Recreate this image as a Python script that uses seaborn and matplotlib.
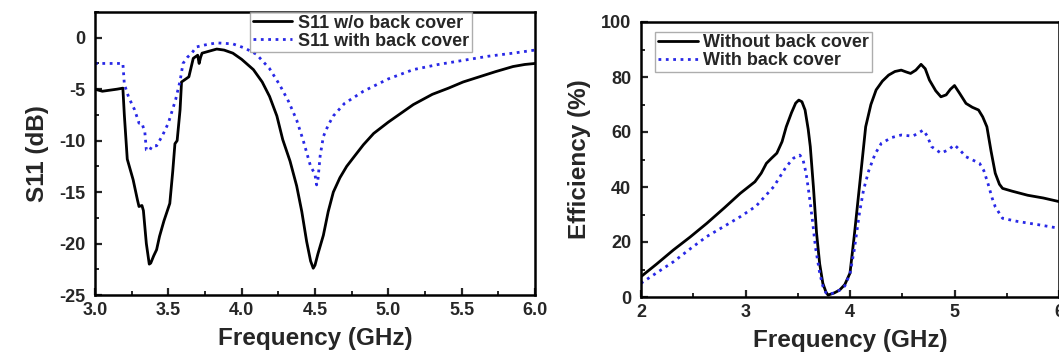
import numpy as np
import pandas as pd
import matplotlib.pyplot as plt
from matplotlib.ticker import MultipleLocator
import seaborn as sns

# S11 data (left panel)
s11_freq_wo = [3.0, 3.05, 3.1, 3.15, 3.19, 3.2, 3.22, 3.26, 3.29, 3.3, 3.32, 3.33, 3.35, 3.37,
               3.38, 3.4, 3.42, 3.44, 3.47, 3.51, 3.53, 3.545, 3.56, 3.58, 3.59, 3.62, 3.64,
               3.67, 3.7, 3.71, 3.72, 3.73, 3.78, 3.83, 3.88, 3.94, 4.0, 4.08, 4.14, 4.19,
               4.24, 4.28, 4.33, 4.375, 4.41, 4.443, 4.47, 4.488, 4.5, 4.52, 4.557, 4.59,
               4.625, 4.67, 4.716, 4.77, 4.83, 4.9, 5.0, 5.08, 5.17, 5.3, 5.41, 5.51, 5.62,
               5.73, 5.85, 5.93, 6.0]
s11_wo = [-5.0, -5.2, -5.1, -5.0, -4.9, -7.5, -11.8, -13.8, -15.8, -16.4, -16.3, -16.8, -20.0, -22.0,
          -21.9, -21.2, -20.6, -19.3, -17.8, -16.1, -13.0, -10.3, -10.0, -7.0, -4.3, -4.0, -3.8,
          -2.0, -1.7, -2.5, -1.9, -1.5, -1.3, -1.1, -1.2, -1.5, -2.1, -3.1, -4.3, -5.7,
          -7.6, -9.9, -12.0, -14.4, -16.9, -19.8, -21.7, -22.4, -22.1, -21.0, -19.2, -16.9,
          -15.0, -13.6, -12.5, -11.5, -10.4, -9.3, -8.2, -7.4, -6.5, -5.5, -4.9, -4.3, -3.8,
          -3.3, -2.8, -2.6, -2.5]

s11_freq_with = [3.0, 3.19, 3.2, 3.23, 3.27, 3.3, 3.32, 3.34, 3.35, 3.37, 3.39, 3.42, 3.46, 3.5,
                 3.55, 3.58, 3.6, 3.63, 3.66, 3.69, 3.75, 3.83, 3.94, 4.02, 4.1, 4.19, 4.26,
                 4.32, 4.375, 4.42, 4.47, 4.49, 4.5, 4.511, 4.52, 4.535, 4.557, 4.59, 4.625,
                 4.7, 4.83, 5.0, 5.17, 5.34, 5.51, 5.68, 5.85, 6.0]
s11_with = [-2.5, -2.5, -4.5, -5.8, -7.0, -8.3, -8.3, -9.2, -10.9, -11.0, -10.5, -10.5, -9.5, -8.3,
            -6.0, -4.2, -2.5, -1.9, -1.5, -0.9, -0.7, -0.5, -0.6, -1.0, -1.6, -3.0, -4.6,
            -6.2, -8.0, -10.0, -12.5, -13.0, -13.3, -14.3, -13.8, -11.5, -9.6, -8.5, -7.6,
            -6.4, -5.2, -4.0, -3.1, -2.6, -2.2, -1.8, -1.5, -1.2]

# Efficiency data (right panel)
eff_freq_wo = [2.0, 2.15, 2.31, 2.47, 2.63, 2.8, 2.95, 3.09, 3.15, 3.2, 3.25, 3.3, 3.35, 3.39,
               3.44, 3.48, 3.51, 3.54, 3.57, 3.6, 3.62, 3.65, 3.68, 3.71, 3.74, 3.77, 3.79,
               3.85, 3.9, 3.95, 4.0, 4.04, 4.09, 4.15, 4.2, 4.25, 4.31, 4.37, 4.43, 4.49,
               4.54, 4.58, 4.63, 4.68, 4.72, 4.76, 4.82, 4.87, 4.92, 4.96, 5.0, 5.05, 5.11,
               5.17, 5.23, 5.27, 5.31, 5.35, 5.39, 5.43, 5.46, 5.55, 5.7, 5.85, 6.0]
eff_wo = [7.4, 12.0, 17.1, 21.8, 26.8, 32.5, 37.7, 41.9, 45.0, 48.6, 50.5, 52.3, 56.5, 61.9,
          67.0, 70.5, 71.6, 71.0, 68.0, 61.0, 54.7, 40.0, 23.2, 12.0, 5.0, 1.8, 0.7,
          1.5, 2.5, 4.5, 8.7, 22.0, 40.0, 61.9, 70.0, 75.3, 78.5, 80.7, 82.0, 82.5,
          81.8, 81.3, 82.5, 84.6, 83.0, 78.9, 75.0, 72.8, 73.5, 75.5, 76.9, 74.0, 70.4,
          69.0, 68.0, 65.5, 61.9, 53.0, 45.0, 41.0, 39.5, 38.5, 37.0, 36.0, 34.7]

eff_freq_with = [2.0, 2.15, 2.31, 2.47, 2.63, 2.8, 2.95, 3.1, 3.27, 3.39, 3.46, 3.52, 3.55, 3.58,
                 3.61, 3.64, 3.67, 3.71, 3.74, 3.77, 3.8, 3.85, 3.9, 3.95, 4.0, 4.04, 4.09,
                 4.13, 4.18, 4.24, 4.3, 4.4, 4.49, 4.6, 4.65, 4.7, 4.74, 4.78, 4.87, 4.94,
                 5.0, 5.05, 5.11, 5.24, 5.28, 5.32, 5.36, 5.39, 5.46, 5.6, 5.8, 6.0]
eff_with = [5.0, 8.8, 12.8, 17.5, 22.0, 25.8, 29.2, 33.0, 40.1, 47.4, 50.5, 51.6, 50.0, 45.0,
            37.0, 28.0, 18.0, 8.7, 4.0, 1.5, 1.0, 1.5, 2.5, 4.0, 8.5, 17.0, 30.4,
            39.0, 46.0, 52.0, 55.9, 58.0, 58.9, 58.5, 59.5, 60.7, 58.5, 54.7, 52.3, 53.5,
            55.3, 53.5, 51.0, 48.6, 46.0, 41.3, 36.0, 32.8, 28.6, 27.5, 26.3, 25.0]

sns.set_style("ticks")
plt.rcParams['font.family'] = ['Liberation Sans', 'DejaVu Sans']
plt.rcParams['font.weight'] = 'bold'
plt.rcParams['axes.unicode_minus'] = False

fig = plt.figure(figsize=(10.59, 3.58), dpi=100)
ax1 = fig.add_axes([95 / 1059, 1 - 295 / 358, 440 / 1059, 283 / 358])
ax2 = fig.add_axes([641 / 1059, 1 - 297 / 358, 418 / 1059, 275 / 358])

blue = '#2828e6'

sns.lineplot(x=s11_freq_wo, y=s11_wo, ax=ax1, color='black', lw=2.0,
             label='S11 w/o back cover', sort=False)
sns.lineplot(x=s11_freq_with, y=s11_with, ax=ax1, color=blue, lw=2.0, ls=':',
             label='S11 with back cover', sort=False)

sns.lineplot(x=eff_freq_wo, y=eff_wo, ax=ax2, color='black', lw=2.0,
             label='Without back cover', sort=False)
sns.lineplot(x=eff_freq_with, y=eff_with, ax=ax2, color=blue, lw=2.0, ls=':',
             label='With back cover', sort=False)

ax1.set_xlim(3.0, 6.0)
ax1.set_ylim(-25, 2.5)
ax1.xaxis.set_major_locator(MultipleLocator(0.5))
ax1.xaxis.set_minor_locator(MultipleLocator(0.25))
ax1.yaxis.set_major_locator(MultipleLocator(5))
ax1.yaxis.set_minor_locator(MultipleLocator(2.5))
ax1.xaxis.set_major_formatter(plt.FormatStrFormatter('%.1f'))

ax2.set_xlim(2, 6)
ax2.set_ylim(0, 100)
ax2.xaxis.set_major_locator(MultipleLocator(1))
ax2.xaxis.set_minor_locator(MultipleLocator(0.5))
ax2.yaxis.set_major_locator(MultipleLocator(20))
ax2.yaxis.set_minor_locator(MultipleLocator(10))

for ax in (ax1, ax2):
    for sp in ax.spines.values():
        sp.set_visible(True)
        sp.set_linewidth(1.8)
        sp.set_color('black')
    ax.tick_params(which='major', direction='in', length=5, width=1.6, labelsize=13)
    ax.tick_params(which='minor', direction='in', length=3, width=1.4)
    ax.tick_params(axis='x', which='major', pad=5)
    ax.tick_params(axis='y', which='major', pad=7)
    for lbl in ax.get_xticklabels() + ax.get_yticklabels():
        lbl.set_fontweight('bold')
    ax.set_xlabel('Frequency (GHz)', fontsize=17.5, fontweight='bold', labelpad=6)

ax1.set_ylabel('S11 (dB)', fontsize=17.5, fontweight='bold', labelpad=7)
ax2.set_ylabel('Efficiency (%)', fontsize=17.5, fontweight='bold', labelpad=7)

leg_kw = dict(fontsize=13, frameon=True, fancybox=False, handlelength=2.2,
              handletextpad=0.3, borderpad=0.15, labelspacing=0.05, borderaxespad=0)
l1 = ax1.legend(loc='upper left', bbox_to_anchor=(0.352, 1.0), **leg_kw)
l2 = ax2.legend(loc='upper left', bbox_to_anchor=(0.034, 0.965), **leg_kw)
for leg in (l1, l2):
    leg.get_frame().set_edgecolor('#999999')
    leg.get_frame().set_linewidth(1.0)
    for t in leg.get_texts():
        t.set_fontweight('bold')

fig.savefig('out.png', dpi=100)
